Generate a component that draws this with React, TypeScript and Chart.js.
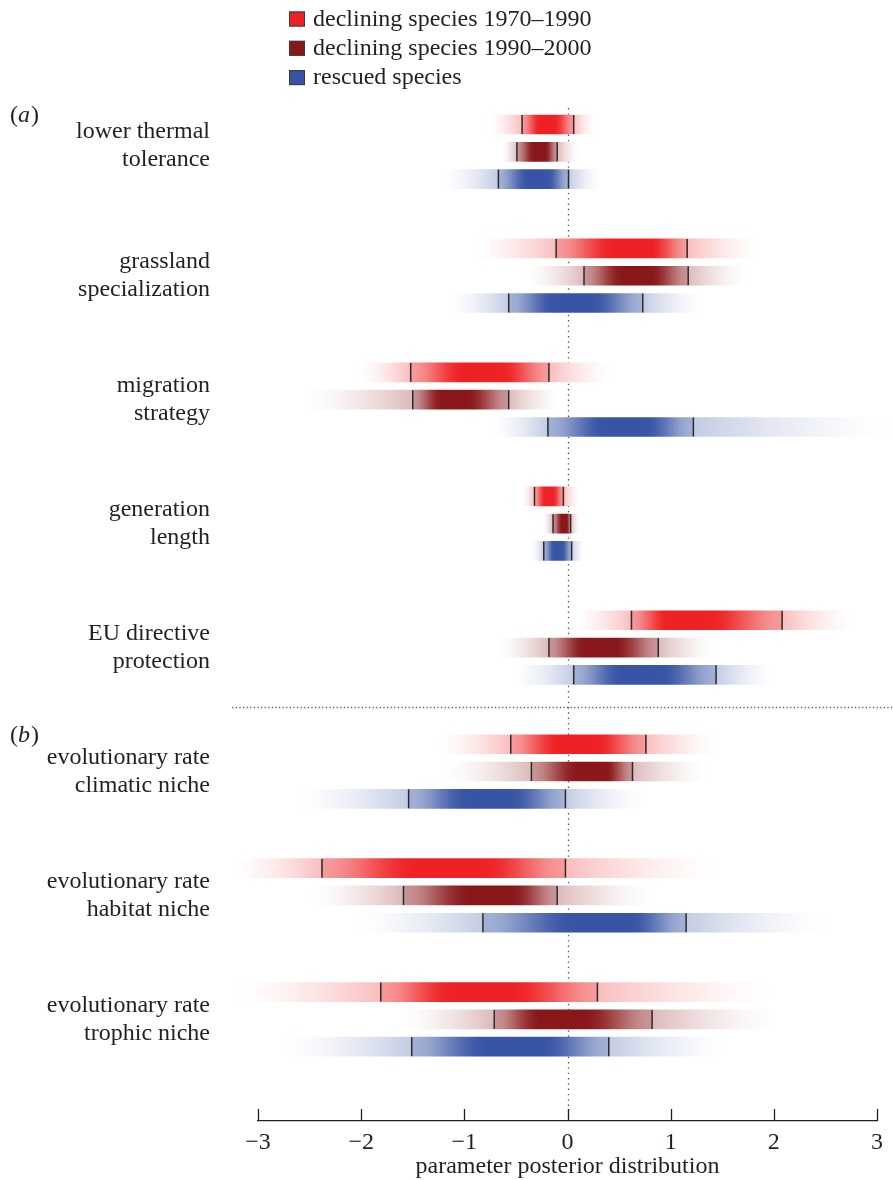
import { useEffect, useRef } from 'react';
import { Chart, registerables } from 'chart.js';

Chart.register(...registerables);

// ---------------- data ----------------
const groupLabels: string[][] = [
  ['lower thermal', 'tolerance'],
  ['grassland', 'specialization'],
  ['migration', 'strategy'],
  ['generation', 'length'],
  ['EU directive', 'protection'],
  ['evolutionary rate', 'climatic niche'],
  ['evolutionary rate', 'habitat niche'],
  ['evolutionary rate', 'trophic niche'],
];

const seriesNames = [
  'declining species 1970\u20131990',
  'declining species 1990\u20132000',
  'rescued species',
];

// each row: [fade start, lower interval tick, mode, upper interval tick, fade end]
const declining1970 = [
  [-0.77, -0.44, -0.2, 0.06, 0.27],
  [-0.92, -0.11, 0.67, 1.16, 1.88],
  [-2.04, -1.52, -0.81, -0.18, 0.44],
  [-0.44, -0.32, -0.18, -0.04, 0.12],
  [0.05, 0.62, 1.1, 2.08, 2.79],
  [-1.27, -0.55, 0.1, 0.76, 1.46],
  [-3.27, -2.38, -1.12, -0.02, 1.48],
  [-3.26, -1.81, -0.86, 0.29, 2.02],
];
const declining1990 = [
  [-0.64, -0.49, -0.26, -0.1, 0.12],
  [-0.41, 0.16, 0.67, 1.17, 1.75],
  [-2.58, -1.5, -1.12, -0.57, -0.06],
  [-0.24, -0.14, -0.02, 0.03, 0.12],
  [-0.7, -0.18, 0.3, 0.88, 1.43],
  [-1.21, -0.35, 0.27, 0.63, 1.36],
  [-2.51, -1.59, -0.7, -0.1, 0.85],
  [-1.64, -0.71, -0.1, 0.82, 2.05],
];
const rescued = [
  [-1.22, -0.67, -0.27, 0.01, 0.33],
  [-1.17, -0.57, 0.05, 0.73, 1.35],
  [-0.75, -0.19, 0.57, 1.22, 3.2],
  [-0.35, -0.23, -0.09, 0.04, 0.17],
  [-0.56, 0.06, 0.7, 1.44, 2.03],
  [-2.66, -1.54, -0.75, -0.02, 0.77],
  [-2.08, -0.82, 0.4, 1.15, 2.55],
  [-2.8, -1.51, -0.5, 0.4, 1.58],
];

const xTicks = [-3, -2, -1, 0, 1, 2, 3];
const panelLabels = [
  { letter: 'a', group: 0 },
  { letter: 'b', group: 5 },
];

// ---------------- styling / layout ----------------
const seriesData = [declining1970, declining1990, rescued];
const seriesRGB = [
  [238, 34, 36],
  [138, 24, 27],
  [56, 84, 164],
];

const FONT = '"Liberation Serif", "Times New Roman", Times, serif';
const TEXT = '#231f20';
const FS = 24;

const W = 893;
const H = 1180;
const TOP = 100;
const AXIS_H = 59;
const ROW_PX = 27.3;
const FIRST_ROW_PX = 124.5;
const GROUP_STEP = 4.54;
const Y_MIN = -(FIRST_ROW_PX - TOP) / ROW_PX;
const Y_MAX = Y_MIN + (H - AXIS_H - TOP) / ROW_PX;
const FIRST_LABEL_SHIFT = -0.22;

const A_OUT = 0.3;
const A_IN = 0.46;

const rowPos = (g: number, s: number) => g * GROUP_STEP + s;

function smooth(u: number) {
  const t = Math.max(0, Math.min(1, u));
  return t * t * (3 - 2 * t);
}

function mix(rgb: number[], a: number) {
  const c = rgb.map((v) => Math.round(255 - a * (255 - v)));
  return `rgb(${c[0]},${c[1]},${c[2]})`;
}

function gradientFor(c: any, rows: number[][], rgb: number[]) {
  const chart = c.chart;
  const xs = chart.scales && chart.scales.x;
  if (!xs || c.dataIndex == null || !chart.chartArea) return mix(rgb, 1);
  const [lo, q1, m, q2, hi] = rows[c.dataIndex];
  const x0 = xs.getPixelForValue(lo);
  const x1 = xs.getPixelForValue(hi);
  const g = chart.ctx.createLinearGradient(x0, 0, x1, 0);
  const off = (v: number) => Math.max(0, Math.min(1, (v - lo) / (hi - lo)));
  const N = 14;
  for (let i = 0; i <= N; i++) {
    const u = i / N;
    g.addColorStop(off(lo + (q1 - lo) * u), mix(rgb, A_OUT * Math.pow(u, 1.6)));
  }
  for (let i = 0; i <= N; i++) {
    const u = i / N;
    g.addColorStop(off(q1 + (m - q1) * u), mix(rgb, A_IN + (1 - A_IN) * smooth(u / 0.72)));
  }
  for (let i = 0; i <= N; i++) {
    const u = i / N;
    g.addColorStop(off(m + (q2 - m) * u), mix(rgb, A_IN + (1 - A_IN) * smooth((1 - u) / 0.72)));
  }
  for (let i = 0; i <= N; i++) {
    const u = i / N;
    g.addColorStop(off(q2 + (hi - q2) * u), mix(rgb, A_OUT * Math.pow(1 - u, 1.6)));
  }
  return g;
}

const decorPlugin = {
  id: 'decor',
  beforeDatasetsDraw(chart: any) {
    const { ctx, chartArea, scales } = chart;
    const x = scales.x;
    const y = scales.y;
    ctx.save();
    ctx.strokeStyle = '#555';
    ctx.lineWidth = 1.3;
    ctx.setLineDash([1.4, 3.9]);
    const x0 = Math.round(x.getPixelForValue(0)) + 0.5;
    ctx.beginPath();
    ctx.moveTo(x0, y.getPixelForValue(-0.6));
    ctx.lineTo(x0, chartArea.bottom - 2);
    ctx.stroke();
    const sepVal = (rowPos(4, 2) + rowPos(5, 0)) / 2 - 0.1;
    const sy = Math.round(y.getPixelForValue(sepVal)) + 0.5;
    ctx.setLineDash([1.2, 2.4]);
    ctx.beginPath();
    ctx.moveTo(x.getPixelForValue(-3.25), sy);
    ctx.lineTo(chart.width, sy);
    ctx.stroke();
    ctx.restore();
  },
  afterDraw(chart: any) {
    const { ctx, chartArea, scales } = chart;
    const x = scales.x;
    const y = scales.y;
    ctx.save();
    ctx.strokeStyle = TEXT;
    ctx.lineWidth = 1.3;
    ctx.setLineDash([]);
    for (const v of xTicks) {
      const px = Math.round(x.getPixelForValue(v)) + 0.5;
      ctx.beginPath();
      ctx.moveTo(px, chartArea.bottom);
      ctx.lineTo(px, chartArea.bottom - 12);
      ctx.stroke();
    }
    ctx.font = `${FS}px ${FONT}`;
    ctx.textBaseline = 'alphabetic';
    ctx.textAlign = 'left';
    seriesNames.forEach((name, i) => {
      const cy = 19 + i * 29.3;
      ctx.fillStyle = mix(seriesRGB[i], 1);
      ctx.fillRect(289, cy - 7.5, 16, 15);
      ctx.strokeStyle = '#3a3a3a';
      ctx.lineWidth = 1;
      ctx.strokeRect(289.5, cy - 7, 15, 14);
      ctx.fillStyle = TEXT;
      ctx.fillText(name, 313, cy + 6.5);
    });
    for (const p of panelLabels) {
      const cy = y.getPixelForValue(rowPos(p.group, 0)) - 8.5;
      const base = cy + 6;
      let px = 10;
      ctx.font = `${FS}px ${FONT}`;
      ctx.fillText('(', px, base);
      px += ctx.measureText('(').width;
      ctx.font = `italic ${FS}px ${FONT}`;
      ctx.fillText(p.letter, px, base);
      px += ctx.measureText(p.letter).width + 1;
      ctx.font = `${FS}px ${FONT}`;
      ctx.fillText(')', px, base);
    }
    ctx.restore();
  },
};

export default function App() {
  const ref = useRef<HTMLCanvasElement>(null);

  useEffect(() => {
    const canvas = ref.current;
    if (!canvas) return;
    Chart.defaults.font.family = FONT;
    Chart.defaults.color = TEXT;

    const barSets = seriesData.map((rows, s) => ({
      type: 'bar' as const,
      label: seriesNames[s],
      data: rows.map((t, g) => ({ y: rowPos(g, s), x: [t[0], t[4]] })),
      backgroundColor: (c: any) => gradientFor(c, rows, seriesRGB[s]),
      borderWidth: 0,
      borderSkipped: false,
      barThickness: 19,
      grouped: false,
      clip: false as any,
      order: 2,
    }));

    const tickPoints: { x: number; y: number }[] = [];
    seriesData.forEach((rows, s) =>
      rows.forEach((t, g) => {
        tickPoints.push({ x: t[1], y: rowPos(g, s) });
        tickPoints.push({ x: t[3], y: rowPos(g, s) });
      })
    );

    const chart = new Chart(canvas, {
      type: 'bar',
      data: {
        datasets: [
          ...barSets,
          {
            type: 'scatter' as const,
            label: 'interval',
            data: tickPoints,
            pointStyle: 'line',
            pointRotation: 90,
            pointRadius: 9.5,
            pointHoverRadius: 9.5,
            pointBorderColor: '#2a2a2a',
            pointBorderWidth: 1.5,
            pointBackgroundColor: '#2a2a2a',
            clip: false as any,
            order: 0,
          } as any,
        ],
      },
      options: {
        indexAxis: 'y',
        responsive: false,
        devicePixelRatio: 1,
        animation: false,
        events: [],
        layout: { padding: { top: TOP, left: 0, right: 16, bottom: 0 } },
        plugins: {
          legend: { display: false },
          tooltip: { enabled: false },
        },
        scales: {
          x: {
            type: 'linear',
            position: 'bottom',
            min: -3,
            max: 3,
            afterBuildTicks: (scale: any) => {
              scale.ticks = xTicks.map((v) => ({ value: v }));
            },
            afterFit: (scale: any) => {
              scale.height = AXIS_H;
              scale.paddingLeft = 0;
              scale.paddingRight = 0;
            },
            grid: { display: false, drawTicks: false, drawOnChartArea: false },
            border: { display: true, color: TEXT, width: 1.3 },
            ticks: {
              padding: 7,
              color: TEXT,
              font: { size: FS, family: FONT },
              callback: (v: any) => (Number(v) < 0 ? '\u2212' + Math.abs(Number(v)) : String(v)),
            },
            title: {
              display: true,
              text: 'parameter posterior distribution',
              color: TEXT,
              font: { size: FS, family: FONT, lineHeight: 1 },
              padding: { top: 0, bottom: 1.5 },
            },
          },
          y: {
            type: 'linear',
            reverse: true,
            offset: false,
            min: Y_MIN,
            max: Y_MAX,
            afterBuildTicks: (scale: any) => {
              scale.ticks = groupLabels.map((_, g) => ({
                value: rowPos(g, 1) + (g === 0 ? FIRST_LABEL_SHIFT : 0),
              }));
            },
            afterFit: (scale: any) => {
              scale.width = 258;
              scale.paddingTop = 0;
              scale.paddingBottom = 0;
            },
            grid: { display: false, drawTicks: false },
            border: { display: false },
            ticks: {
              autoSkip: false,
              padding: 48,
              color: TEXT,
              font: { size: FS, family: FONT, lineHeight: 28 / FS },
              callback: (_v: any, i: number) => groupLabels[i],
            },
          },
        },
      },
      plugins: [decorPlugin],
    } as any);

    return () => chart.destroy();
  }, []);

  return (
    <div style={{ position: 'absolute', left: 0, top: 0, width: W, height: H, background: '#fff' }}>
      <canvas ref={ref} width={W} height={H} style={{ display: 'block', width: W, height: H }} />
    </div>
  );
}
